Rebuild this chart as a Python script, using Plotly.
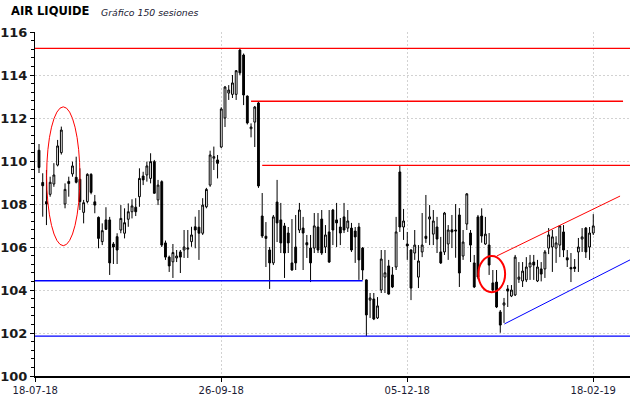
import plotly.graph_objects as go

# ---- data (session index 0..149; tick "18-07-18" is the session before index 0)
opens = [110.5,109.0,108.11,108.45,108.93,109.81,110.39,108.0,109.05,109.4,
         109.24,109.15,107.61,108.11,109.38,108.1,107.38,106.25,107.26,107.26,
         106.14,106.48,106.79,106.64,107.29,107.64,107.85,108.34,109.3,109.35,
         109.19,109.97,108.19,109.04,106.19,105.53,105.31,105.49,105.77,105.86,
         105.9,106.25,106.94,106.92,106.64,107.87,108.88,110.13,110.05,110.65,
         112.0,113.16,113.1,113.1,115.16,114.93,113.02,111.5,111.81,112.7,
         107.44,106.5,105.86,105.26,108.09,107.26,106.98,106.65,105.26,106.0,
         106.79,106.88,106.2,105.95,105.95,106.93,107.3,106.0,106.7,107.72,
         107.26,106.93,107.4,106.88,106.88,106.74,106.93,105.95,104.47,103.53,
         103.58,102.7,104.0,104.6,105.12,104.7,105.07,109.49,106.93,106.14,
         105.86,105.72,104.6,105.77,106.5,107.3,106.6,106.93,105.77,105.77,
         106.14,106.8,106.79,107.49,105.58,107.07,106.65,105.26,107.4,107.44,
         106.14,106.09,104.33,104.37,102.98,103.3,104.05,103.72,103.77,104.5,
         104.42,104.47,105.07,105.3,104.42,104.98,104.98,105.95,106.0,105.95,
         106.09,106.7,105.5,105.05,105.07,105.77,106.37,106.88,106.0,106.65]
highs = [110.79,109.43,109.58,109.27,109.9,110.98,111.6,108.96,109.27,109.97,
         110.2,109.66,108.19,109.43,109.43,108.42,107.42,107.1,107.85,107.4,
         106.23,106.64,107.95,107.8,108.03,108.22,108.27,109.66,109.5,109.97,
         110.36,110.05,109.12,109.1,106.3,105.6,106.14,105.86,105.86,106.79,
         106.79,106.94,107.41,107.72,108.27,108.75,110.48,110.67,110.28,112.5,
         113.49,113.53,114.0,114.23,115.26,115.0,113.05,111.75,112.56,112.78,
         108.51,107.16,106.0,107.49,109.12,108.05,107.12,106.93,107.3,107.49,
         108.05,107.4,106.56,106.56,107.58,107.58,107.72,107.02,107.72,107.77,
         108.05,107.35,108.05,107.72,107.12,106.93,107.12,106.0,104.5,103.86,
         103.86,103.67,105.86,105.86,105.4,105.07,107.4,109.77,107.77,106.7,
         105.9,106.79,106.09,107.58,108.42,107.95,107.72,107.4,106.47,107.63,
         107.02,107.49,108.0,107.81,106.79,108.51,106.79,105.63,107.49,107.8,
         107.4,106.65,104.93,104.93,103.07,103.63,104.23,104.23,105.63,105.3,
         105.3,105.53,105.63,105.63,105.4,105.3,105.86,106.88,106.79,106.5,
         107.02,107.02,105.86,105.72,105.44,106.42,106.88,106.93,106.93,107.53]
lows = [109.44,107.41,107.02,108.34,108.8,109.75,110.3,107.8,108.34,109.27,
        108.96,107.72,107.1,108.03,108.45,107.57,105.94,106.09,106.79,104.7,
        105.21,105.21,106.64,106.4,106.94,107.33,107.44,107.87,108.88,109.04,
        108.96,108.48,107.95,106.0,105.4,104.84,104.56,105.3,104.79,105.49,
        105.49,106.01,105.94,105.4,106.56,107.8,108.8,109.58,109.19,110.6,
        111.58,112.84,112.93,112.84,114.0,112.6,111.7,111.1,110.65,108.75,
        106.42,105.07,104.05,105.16,106.23,105.72,104.56,105.72,104.9,104.93,
        106.65,104.93,105.49,104.37,105.72,105.72,105.63,105.72,105.26,106.09,
        106.0,106.09,106.65,106.7,105.77,105.26,104.47,104.47,101.86,102.7,
        102.6,102.65,103.86,103.86,103.78,104.09,104.93,106.7,106.33,105.4,
        103.53,105.4,104.09,105.53,106.19,106.09,106.09,105.72,105.21,105.63,
        105.4,105.95,105.5,104.14,105.4,106.79,105.3,104.09,104.5,106.2,
        106.1,104.7,103.86,103.16,102.01,102.47,103.21,103.67,103.72,104.33,
        104.14,104.37,104.47,104.47,104.37,104.4,104.56,105.67,104.84,105.26,
        105.53,105.53,105.07,104.37,104.84,104.84,105.77,105.49,105.4,106.56]
closes = [109.7,108.85,108.0,109.01,109.35,110.7,111.44,108.68,108.95,109.77,
          109.01,108.11,108.06,109.38,108.54,107.95,106.4,106.76,106.82,105.26,
          106.0,105.86,107.33,107.13,107.64,107.91,107.64,109.19,109.12,109.77,
          109.97,108.5,108.88,106.09,105.53,105.12,105.74,105.58,105.53,106.0,
          105.95,106.56,106.79,106.64,107.95,108.68,110.28,110.2,109.89,112.42,
          113.44,113.3,113.63,114.2,114.1,113.07,111.77,111.58,112.51,108.84,
          106.51,106.4,105.26,107.4,107.12,106.19,105.72,106.19,104.93,105.26,
          107.72,106.65,106.1,105.26,106.98,105.86,105.72,106.56,105.3,106.79,
          107.12,106.65,106.79,107.21,105.86,106.47,105.4,104.93,102.84,103.63,
          102.65,103.26,105.44,104.8,103.81,104.14,106.7,106.93,107.21,106.05,
          104.09,106.09,105.35,106.09,106.4,107.4,107.21,106.37,105.26,107.58,
          106.79,106.7,106.75,104.79,106.23,108.47,106.09,104.14,104.6,106.51,
          106.6,105.16,104.0,103.21,102.37,103.4,103.95,104.0,105.53,104.6,
          104.88,105.07,105.26,105.16,105.07,104.74,105.77,106.56,106.47,106.19,
          106.98,105.86,105.4,104.98,105.0,106.0,106.47,105.77,106.65,106.98]

tick_pos = [-1, 49, 99, 149]
tick_text = ["18-07-18", "26-09-18", "05-12-18", "18-02-19"]
y_ticks = [100, 102, 104, 106, 108, 110, 112, 114, 116]

# horizontal levels: (level, start session, end session)
red_levels = [115.24, 112.78, 109.8]
red_starts = [-1.07, 57, 60]
red_ends = [158.87, 157, 158.87]
blue_levels = [104.43, 101.85]
blue_starts = [-1.07, -1.07]
blue_ends = [87, 158.87]

# trend lines (session, price)
red_trend_x = [123.05, 156.2]
red_trend_y = [105.58, 108.37]
blue_trend_x = [125.1, 158.87]
blue_trend_y = [102.42, 105.4]

# annotation ellipses: (x0, x1, y0, y1)
ellipse_big = [2.05, 11.0, 106.06, 112.52]
circle_small = [118.1, 125.3, 103.9, 105.58]

n = len(opens)
xs = list(range(n))

fig = go.Figure()
fig.add_trace(go.Candlestick(
    x=xs, open=opens, high=highs, low=lows, close=closes,
    increasing=dict(line=dict(color="black", width=1), fillcolor="white"),
    decreasing=dict(line=dict(color="black", width=1), fillcolor="black"),
    whiskerwidth=0, showlegend=False, hoverinfo="skip"))

shapes = []
for lv, s, e in zip(red_levels, red_starts, red_ends):
    shapes.append(dict(type="line", xref="x", yref="y", x0=s, x1=e, y0=lv, y1=lv,
                       line=dict(color="#ff0000", width=1.3)))
for lv, s, e in zip(blue_levels, blue_starts, blue_ends):
    shapes.append(dict(type="line", xref="x", yref="y", x0=s, x1=e, y0=lv, y1=lv,
                       line=dict(color="#0000ff", width=1.3)))
shapes.append(dict(type="line", xref="x", yref="y", x0=red_trend_x[0], x1=red_trend_x[1],
                   y0=red_trend_y[0], y1=red_trend_y[1], line=dict(color="#ff0000", width=1)))
shapes.append(dict(type="line", xref="x", yref="y", x0=blue_trend_x[0], x1=blue_trend_x[1],
                   y0=blue_trend_y[0], y1=blue_trend_y[1], line=dict(color="#0000ff", width=1)))
shapes.append(dict(type="circle", xref="x", yref="y", x0=ellipse_big[0], x1=ellipse_big[1],
                   y0=ellipse_big[2], y1=ellipse_big[3], line=dict(color="#ff0000", width=1)))
shapes.append(dict(type="circle", xref="x", yref="y", x0=circle_small[0], x1=circle_small[1],
                   y0=circle_small[2], y1=circle_small[3], line=dict(color="#ff0000", width=2)))

fig.update_layout(
    width=640, height=398, margin=dict(l=35, r=10, t=32, b=22, autoexpand=False),
    paper_bgcolor="white", plot_bgcolor="white",
    shapes=shapes, hovermode=False,
    xaxis=dict(range=[-1.075, 158.87], rangeslider=dict(visible=False), automargin=False,
               tickvals=tick_pos, ticktext=tick_text, ticks="outside", ticklen=4,
               tickcolor="black", showline=True, linecolor="black", linewidth=1.5,
               showgrid=True, gridcolor="#d2d2d2", griddash="2px,2px", gridwidth=1,
               zeroline=False,
               tickfont=dict(family="DejaVu Sans", size=10, color="#1a1a33")),
    yaxis=dict(range=[100, 116], tickvals=y_ticks, ticks="outside", ticklen=4,
               automargin=False,
               tickcolor="black", showline=True, linecolor="black", linewidth=1,
               showgrid=True, gridcolor="#d2d2d2", griddash="2px,2px", gridwidth=1,
               zeroline=False,
               minor=dict(dtick=0.4, tick0=100, ticks="outside", ticklen=3,
                          tickcolor="black", showgrid=False),
               tickfont=dict(family="DejaVu Sans", size=13, color="#1a1a1a", weight="bold")),
    annotations=[
        dict(text="AIR LIQUIDE", xref="paper", yref="paper", x=-0.0437, y=1.06,
             xanchor="left", yanchor="middle", showarrow=False,
             font=dict(family="DejaVu Sans", size=11.5, color="black", weight="bold")),
        dict(text="<i>Gráfico 150 sesiones</i>", xref="paper", yref="paper", x=0.1076, y=1.058,
             xanchor="left", yanchor="middle", showarrow=False,
             font=dict(family="DejaVu Sans", size=9.3, color="#1a1a33")),
    ],
)

fig.write_html("out.html")
